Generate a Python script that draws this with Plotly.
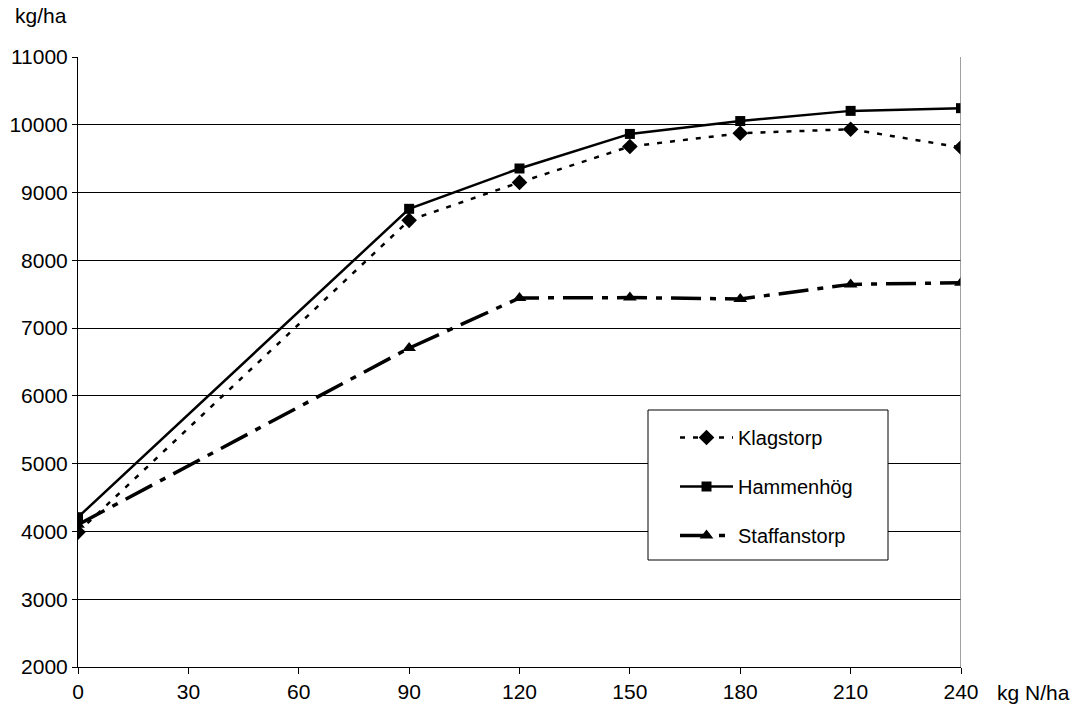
import plotly.graph_objects as go

x_vals = [0, 30, 60, 90, 120, 150, 180, 210, 240]
n_rates = [0, 90, 120, 150, 180, 210, 240]
klagstorp = [3990, 8590, 9150, 9680, 9875, 9935, 9665]
hammenhog = [4210, 8760, 9355, 9865, 10055, 10205, 10245]
staffanstorp = [4100, 6705, 7445, 7450, 7430, 7645, 7670]
y_ticks = [2000, 3000, 4000, 5000, 6000, 7000, 8000, 9000, 10000, 11000]

FONT = "Liberation Sans, Arial, sans-serif"
FS = 21

fig = go.Figure()
fig.add_trace(go.Scatter(
    x=n_rates, y=klagstorp, name="Klagstorp", mode="lines+markers",
    line=dict(color="black", width=2.5, dash="5px,8px"),
    marker=dict(symbol="diamond", size=12, color="black"),
    legendgroup="a"))
fig.add_trace(go.Scatter(
    x=n_rates, y=hammenhog, name="Hammenhög", mode="lines+markers",
    line=dict(color="black", width=2.5),
    marker=dict(symbol="square", size=10, color="black"),
    legendgroup="b"))
fig.add_trace(go.Scatter(
    x=n_rates, y=staffanstorp, name="Staffanstorp", mode="lines+markers",
    line=dict(color="black", width=3.5, dash="30px,9px,6px,9px"),
    marker=dict(symbol="triangle-up", size=12, color="black"),
    legendgroup="c"))

fig.update_layout(
    width=1080, height=709,
    margin=dict(l=78, r=119, t=57, b=42),
    paper_bgcolor="white", plot_bgcolor="white",
    font=dict(family=FONT, size=FS, color="black"),
    showlegend=True,
    legend=dict(
        x=(675 - 78) / 883, y=(667 - 418) / 610, xanchor="left", yanchor="top",
        bgcolor="rgba(0,0,0,0)", borderwidth=0,
        font=dict(family=FONT, size=20, color="black"),
        traceorder="grouped", tracegroupgap=20,
        itemwidth=53,
    ),
    xaxis=dict(
        range=[0, 240], tickvals=x_vals, ticktext=[str(v) for v in x_vals],
        showgrid=False, zeroline=False, automargin=False,
        showline=True, linecolor="black", linewidth=1,
        ticks="outside", ticklen=6, tickcolor="black",
        tickfont=dict(family=FONT, size=FS, color="black"),
    ),
    yaxis=dict(
        range=[2000, 11000], tickvals=y_ticks, ticktext=[str(v) for v in y_ticks],
        showgrid=True, gridcolor="black", gridwidth=1, zeroline=False, automargin=False,
        showline=True, linecolor="black", linewidth=1,
        ticks="outside", ticklen=5, tickcolor="black",
        tickfont=dict(family=FONT, size=FS, color="black"),
    ),
    shapes=[
        dict(type="line", xref="x", yref="paper", x0=240, x1=240, y0=0, y1=1,
             line=dict(color="#808080", width=1.5)),
        dict(type="rect", xref="paper", yref="paper",
             x0=(648 - 78) / 883, x1=(888 - 78) / 883,
             y0=(667 - 560) / 610, y1=(667 - 410) / 610,
             line=dict(color="black", width=1), fillcolor="white", layer="above"),
    ],
    annotations=[
        dict(text="kg/ha", xref="paper", yref="paper", x=(13 - 78) / 883, y=(667 - 16) / 610,
             xanchor="left", yanchor="middle", showarrow=False,
             font=dict(family=FONT, size=FS, color="black")),
        dict(text="kg N/ha", xref="paper", yref="paper", x=(995 - 78) / 883, y=(667 - 692) / 610,
             xanchor="left", yanchor="middle", showarrow=False,
             font=dict(family=FONT, size=FS, color="black")),
    ],
)

fig.write_html("out.html")
